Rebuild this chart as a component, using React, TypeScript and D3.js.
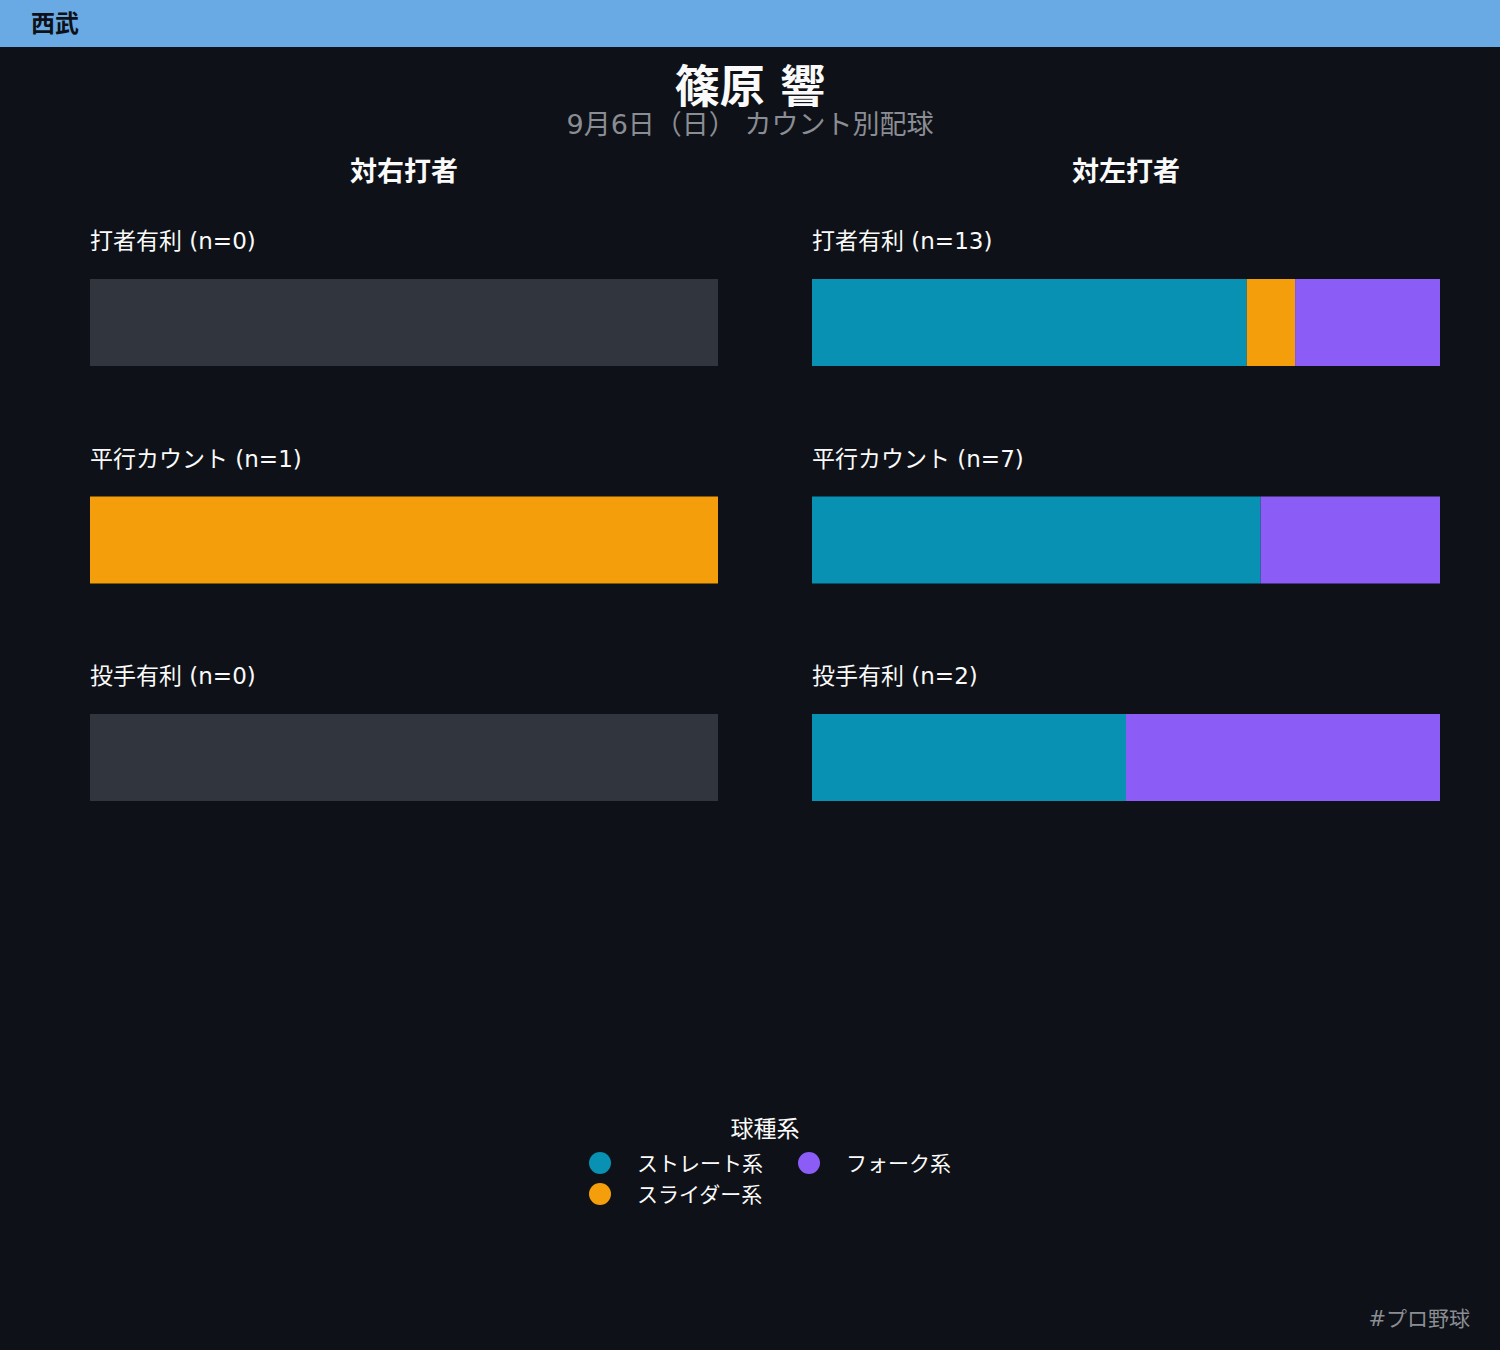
import React from "react";
import * as d3 from "d3";

const pitchTypes = ["ストレート系", "スライダー系", "フォーク系"];
const pitchColors = ["#0891b2", "#f59e0b", "#8b5cf6"];
const countSituations = ["打者有利", "平行カウント", "投手有利"];
const sides = ["対右打者", "対左打者"];
// counts per situation: [straight, slider, fork]
const rightCounts = [
  [0, 0, 0],
  [0, 1, 0],
  [0, 0, 0],
];
const leftCounts = [
  [9, 1, 3],
  [5, 0, 2],
  [1, 0, 1],
];
const teamName = "西武";
const playerName = "篠原 響";
const subtitle = "9月6日（日） カウント別配球";
const legendTitle = "球種系";
const footer = "#プロ野球";

const W = 1500;
const H = 1350;
const FONT = "'DejaVu Sans', 'Noto Sans CJK JP', sans-serif";

function Panel({ x0, counts, title }: { x0: number; counts: number[][]; title: string }) {
  const width = 628;
  const xs = d3.scaleLinear().domain([0, 1]).range([x0, x0 + width]);
  const rowY = d3.scalePoint<number>().domain([0, 1, 2]).range([279, 714]);
  return (
    <g>
      <text x={x0 + width / 2} y={181} textAnchor="middle" fill="#fafafa" fontSize={27} fontWeight="bold" fontFamily={FONT}>
        {title}
      </text>
      {counts.map((row, i) => {
        const n = d3.sum(row);
        const y = rowY(i) as number;
        let cum = 0;
        return (
          <g key={i}>
            <text x={x0} y={y - 30} fill="#fafafa" fontSize={23} fontFamily={FONT}>
              {`${countSituations[i]} (n=${n})`}
            </text>
            {n === 0 ? (
              <rect x={xs(0)} y={y} width={xs(1) - xs(0)} height={87} fill="#31363e" />
            ) : (
              row.map((v, j) => {
                const s = cum / n;
                cum += v;
                const e = cum / n;
                if (v === 0) return null;
                return <rect key={j} x={xs(s)} y={y} width={xs(e) - xs(s)} height={87} fill={pitchColors[j]} />;
              })
            )}
          </g>
        );
      })}
    </g>
  );
}

export default function App() {
  const legendItems = [
    { i: 0, x: 600, y: 1163 },
    { i: 2, x: 809, y: 1163 },
    { i: 1, x: 600, y: 1194 },
  ];
  return (
    <svg width={W} height={H} style={{ display: "block", position: "absolute", left: 0, top: 0 }}>
      <rect x={0} y={0} width={W} height={H} fill="#0e1117" />
      <rect x={0} y={0} width={W} height={47} fill="#6aaae4" />
      <text x={31} y={32} fill="#0e1117" fontSize={24} fontWeight="bold" fontFamily={FONT}>
        {teamName}
      </text>
      <text x={750} y={103} textAnchor="middle" fill="#fafafa" fontSize={45} fontWeight="bold" fontFamily={FONT}>
        {playerName}
      </text>
      <text x={750} y={134} textAnchor="middle" fill="#8a8d93" fontSize={27} fontFamily={FONT}>
        {subtitle}
      </text>
      <Panel x0={90} counts={rightCounts} title={sides[0]} />
      <Panel x0={812} counts={leftCounts} title={sides[1]} />
      <text x={765} y={1137} textAnchor="middle" fill="#fafafa" fontSize={23} fontFamily={FONT}>
        {legendTitle}
      </text>
      {legendItems.map((d) => (
        <g key={d.i}>
          <circle cx={d.x} cy={d.y} r={11} fill={pitchColors[d.i]} />
          <text x={d.x + 37} y={d.y + 8} fill="#fafafa" fontSize={21} fontFamily={FONT}>
            {pitchTypes[d.i]}
          </text>
        </g>
      ))}
      <text x={1470} y={1326} textAnchor="end" fill="#8a8d93" fontSize={21} fontFamily={FONT}>
        {footer}
      </text>
    </svg>
  );
}
